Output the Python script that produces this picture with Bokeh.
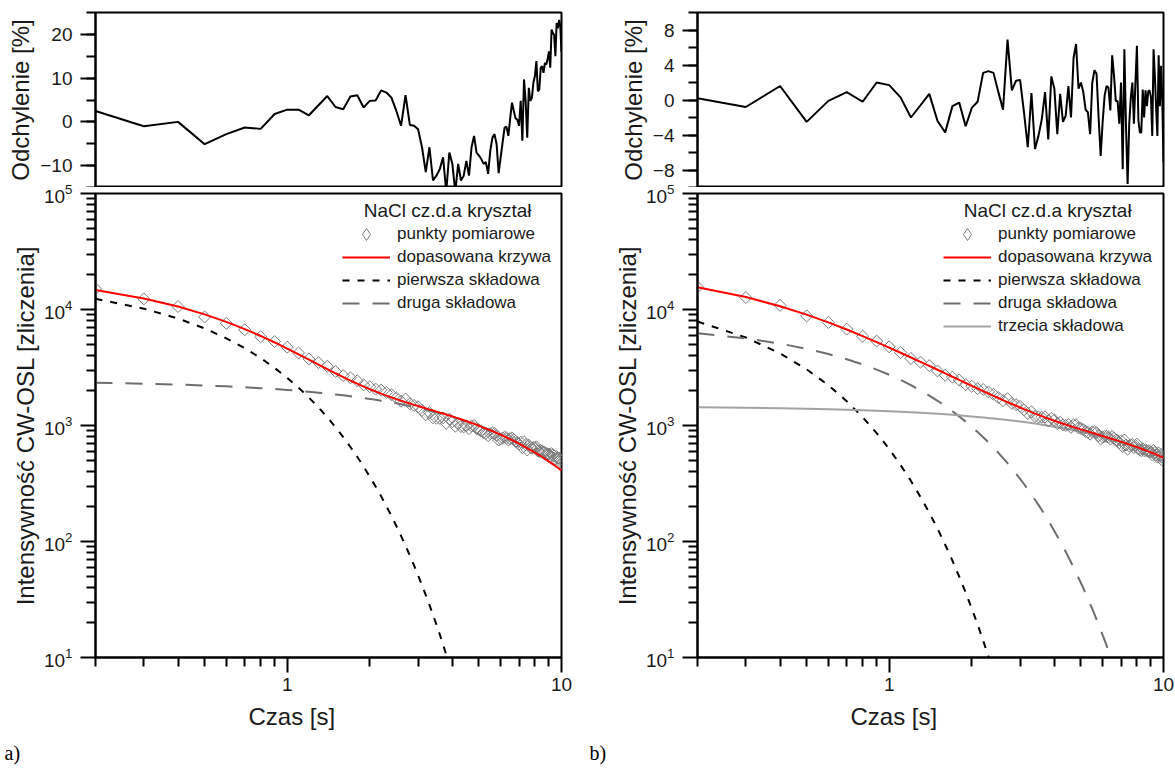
import math
from bokeh.plotting import figure
from bokeh.layouts import row, column
from bokeh.models import (FixedTicker, SingleIntervalTicker, PrintfTickFormatter,
                          Legend, LegendItem, Label, LogAxis, Title)
from bokeh.embed import file_html
from bokeh.resources import INLINE

# ---------------- data ----------------
t = [0.2, 0.3, 0.4, 0.5, 0.6, 0.7, 0.8, 0.9, 1.0,
     1.1, 1.2, 1.3, 1.4, 1.5, 1.6, 1.7, 1.8, 1.9, 2.0,
     2.1, 2.2, 2.3, 2.4, 2.5, 2.6, 2.7, 2.8, 2.9, 3.0,
     3.1, 3.2, 3.3, 3.4, 3.5, 3.6, 3.7, 3.8, 3.9, 4.0,
     4.1, 4.2, 4.3, 4.4, 4.5, 4.6, 4.7, 4.8, 4.9, 5.0,
     5.1, 5.2, 5.3, 5.4, 5.5, 5.6, 5.7, 5.8, 5.9, 6.0,
     6.1, 6.2, 6.3, 6.4, 6.5, 6.6, 6.7, 6.8, 6.9, 7.0,
     7.1, 7.2, 7.3, 7.4, 7.5, 7.6, 7.7, 7.8, 7.9, 8.0,
     8.1, 8.2, 8.3, 8.4, 8.5, 8.6, 8.7, 8.8, 8.9, 9.0,
     9.1, 9.2, 9.3, 9.4, 9.5, 9.6, 9.7, 9.8, 9.9, 10.0]

# panel a)
res_a = [2.5, -1.0, 0.0, -5.1, -2.8, -1.3, -1.6, 1.8, 2.8,
         2.8, 1.5, 3.8, 5.9, 3.4, 2.9, 5.8, 6.1, 3.3, 4.8,
         4.9, 7.2, 6.7, 5.5, 2.5, -0.9, 6.1, -0.7, -0.9, -1.7,
         -5.8, -11.5, -5.8, -13.4, -12.3, -10.8, -8.1, -16.0, -7.0, -9.6,
         -16.0, -9.6, -13.4, -12.3, -8.9, -12.3, -5.8, -3.2, -7.0, -7.7,
         -8.5, -9.6, -9.2, -11.9, -6.6, -3.6, -2.8, -5.1, -11.7, -8.1,
         -4.7, -1.3, -1.1, -3.2, 0.8, 4.4, 2.5, 0.8, 0.5, -0.9,
         4.8, -4.3, 9.7, 4.8, -3.6, 7.8, 4.8, 5.5, 9.0, 10.5,
         13.9, 7.0, 7.4, 12.4, 12.7, 11.2, 13.5, 13.1, 14.3, 16.1,
         12.4, 21.1, 20.3, 19.9, 15.0, 22.6, 21.4, 23.3, 21.8, 16.0]

meas_a = [15070, 12340, 10610, 8620, 7600, 6690, 5820, 5290, 4730,
          4220, 3750, 3480, 3240, 2920, 2690, 2580, 2430, 2240, 2160,
          2060, 2020, 1930, 1840, 1730, 1620, 1690, 1540, 1490, 1450,
          1350, 1240, 1290, 1165, 1156, 1152, 1164, 1044, 1134, 1081,
          986, 1041, 979, 973, 994, 939, 991, 999, 943, 918,
          895, 868, 856, 817, 850, 862, 854, 819, 749, 766,
          780, 794, 781, 751, 768, 782, 754, 729, 714, 692,
          718, 644, 725, 681, 615, 676, 646, 638, 649, 645,
          654, 603, 595, 611, 603, 584, 586, 573, 569, 568,
          541, 572, 558, 547, 515, 539, 524, 524, 508, 476]

fit_a = [14705, 12462, 10610, 9083, 7821, 6777, 5914, 5197, 4603,
         4108, 3696, 3351, 3062, 2820, 2615, 2441, 2294, 2167, 2059,
         1964, 1881, 1808, 1745, 1687, 1636, 1589, 1547, 1507, 1471,
         1437, 1405, 1374, 1345, 1318, 1292, 1267, 1243, 1219, 1196,
         1174, 1152, 1131, 1110, 1091, 1071, 1052, 1032, 1014, 996,
         978, 960, 943, 927, 910, 894, 879, 863, 848, 833,
         818, 804, 790, 776, 762, 749, 736, 723, 710, 698,
         685, 673, 661, 650, 638, 627, 616, 605, 595, 584,
         574, 564, 554, 544, 535, 525, 516, 507, 498, 489,
         481, 472, 464, 456, 448, 440, 432, 425, 417, 410]

comp1_a = [12370, 10168, 8357, 6869, 5646, 4641, 3815, 3135, 2577,
           2118, 1741, 1431, 1176, 967, 795, 653, 537, 441, 363,
           298, 245, 201, 166, 136, 112, 92, 75.6, 62.2, 51.1,
           42.0, 34.5, 28.4, 23.3, 19.2, 15.8, 12.9, 10.6, 8.7, 7.2]

comp2_a = [2335, 2294, 2253, 2214, 2175, 2136, 2099, 2062, 2026,
           1990, 1955, 1920, 1886, 1853, 1820, 1788, 1757, 1726, 1696,
           1666, 1636, 1607, 1579, 1551, 1524, 1497, 1471, 1445, 1420,
           1395, 1370, 1346, 1322, 1299, 1276, 1254, 1232, 1210, 1189,
           1168, 1147, 1127, 1107, 1088, 1069, 1050, 1031, 1013, 995,
           978, 960, 943, 927, 910, 894, 879, 863, 848, 833,
           818, 804, 790, 776, 762, 749, 736, 723, 710, 698,
           685, 673, 661, 650, 638, 627, 616, 605, 595, 584,
           574, 564, 554, 544, 535, 525, 516, 507, 498, 489,
           481, 472, 464, 456, 448, 440, 432, 425, 417, 410]

# panel b)
res_b = [0.2, -0.8, 1.6, -2.5, -0.1, 0.9, -0.2, 2.0, 1.7,
         0.3, -2.0, -0.6, 0.7, -2.4, -3.7, -0.7, -0.3, -3.0, -0.9,
         -0.2, 3.1, 3.3, 3.1, 0.9, -1.1, 6.9, 1.1, 2.2, 2.3,
         -1.4, -5.4, 0.8, -5.6, -4.1, -2.2, 0.9, -4.5, 2.7, 1.3,
         -3.9, 0.7, -2.5, -1.8, 1.6, -2.0, 4.8, 6.4, 1.3, 2.0,
         0.9, -1.1, -1.4, -3.9, 2.0, 3.4, 3.0, -2.0, -6.4, -2.5,
         0.5, 1.6, 1.4, -1.2, 5.1, 2.8, -0.1, -0.1, -2.7, 2.0,
         -7.9, 5.8, -3.1, -9.6, -2.7, 0.3, 2.0, -2.7, 2.0, 6.2,
         -2.3, -3.7, -3.7, 1.2, -2.0, 1.1, -0.7, 1.0, 1.1, 0.3,
         -4.1, 5.8, 2.8, -0.9, -4.1, 5.1, -0.7, 3.9, -0.1, -7.1]

meas_b = [15600, 12700, 10850, 8805, 7731, 6777, 5886, 5340, 4769,
          4250, 3782, 3515, 3284, 2950, 2711, 2613, 2464, 2256, 2178,
          2080, 2042, 1949, 1859, 1741, 1637, 1701, 1550, 1513, 1463,
          1365, 1270, 1313, 1196, 1184, 1178, 1186, 1097, 1154, 1114,
          1036, 1064, 1011, 1002, 1018, 965, 1016, 1015, 952, 945,
          921, 890, 875, 842, 881, 882, 867, 815, 768, 792,
          806, 806, 794, 765, 804, 778, 748, 740, 712, 740,
          659, 750, 679, 627, 667, 681, 685, 646, 671, 691,
          629, 614, 608, 631, 606, 618, 601, 605, 600, 589,
          557, 608, 585, 558, 534, 579, 541, 561, 533, 491]

fit_b = [15570, 12804, 10679, 9031, 7739, 6717, 5898, 5235, 4689,
         4237, 3859, 3536, 3261, 3023, 2815, 2631, 2471, 2326, 2198,
         2084, 1981, 1887, 1803, 1725, 1655, 1591, 1533, 1480, 1430,
         1384, 1342, 1303, 1267, 1235, 1204, 1175, 1149, 1124, 1100,
         1078, 1057, 1037, 1020, 1002, 985, 969, 954, 940, 926,
         913, 900, 887, 876, 864, 853, 842, 832, 821, 812,
         802, 793, 783, 774, 765, 757, 749, 741, 732, 725,
         716, 709, 701, 694, 686, 679, 672, 664, 658, 651,
         644, 638, 631, 624, 618, 611, 605, 599, 593, 587,
         581, 575, 569, 563, 557, 551, 545, 540, 534, 529]

comp1_b = [7880, 5742, 4184, 3049, 2222, 1619, 1180, 860, 626,
           456, 333, 242, 177, 129, 93.8, 68.3, 49.8, 36.3, 26.4,
           19.3, 14.0, 10.2, 7.5]

comp2_b = [6250, 5637, 5084, 4585, 4135, 3730, 3364, 3034, 2736,
           2468, 2226, 2007, 1810, 1633, 1473, 1328, 1198, 1080, 974,
           879, 793, 715, 645, 581, 524, 473, 427, 385, 347,
           313, 282, 254, 229, 207, 187, 168, 152, 137, 123,
           111, 100, 90.4, 81.5, 73.5, 66.3, 59.8, 53.9, 48.6, 43.9,
           39.6, 35.7, 32.2, 29.0, 26.2, 23.6, 21.3, 19.2, 17.3, 15.6,
           14.1, 12.7, 11.5, 10.3, 9.3, 8.4]

comp3_b = [1440, 1425, 1411, 1397, 1382, 1368, 1354, 1341, 1327,
           1313, 1300, 1287, 1274, 1261, 1248, 1235, 1223, 1210, 1198,
           1186, 1174, 1162, 1150, 1138, 1127, 1115, 1104, 1093, 1082,
           1071, 1060, 1049, 1038, 1028, 1017, 1007, 997, 987, 977,
           967, 957, 947, 938, 928, 919, 909, 900, 891, 882,
           873, 864, 855, 847, 838, 829, 821, 813, 804, 796,
           788, 780, 772, 764, 756, 749, 741, 734, 726, 719,
           711, 704, 697, 690, 683, 676, 669, 662, 656, 649,
           642, 636, 629, 623, 617, 610, 604, 598, 592, 586,
           580, 574, 568, 562, 557, 551, 545, 540, 534, 529]

legend_title = "NaCl cz.d.a kryształ"
legend_labels = ["punkty pomiarowe", "dopasowana krzywa", "pierwsza składowa",
                 "druga składowa", "trzecia składowa"]
x_major = [1, 10]
x_minor = [0.2, 0.3, 0.4, 0.5, 0.6, 0.7, 0.8, 0.9, 2, 3, 4, 5, 6, 7, 8, 9]
y_major = [10, 100, 1000, 10000, 100000]
y_minor = [m * d for d in (10, 100, 1000, 10000) for m in range(2, 10)]

# ---------------- styling ----------------
FONT = "Liberation Sans"
TXT = "#1a1a1a"
FW, FH_TOP, FH_BOT = 466, 175, 464


def style_common(p):
    p.grid.visible = False
    p.outline_line_color = "black"
    p.outline_line_width = 2
    p.background_fill_color = "white"


def style_axis(ax, label):
    ax.axis_label = label
    ax.axis_label_text_font = FONT
    ax.axis_label_text_font_size = "24px"
    ax.axis_label_text_font_style = "normal"
    ax.axis_label_text_color = TXT
    ax.major_label_text_font = FONT
    ax.major_label_text_font_size = "19px"
    ax.major_label_text_color = TXT
    ax.axis_line_color = "black"
    ax.axis_line_width = 2
    ax.major_tick_line_color = "black"
    ax.major_tick_line_width = 2
    ax.minor_tick_line_color = "black"
    ax.minor_tick_line_width = 2
    ax.major_tick_in = 0
    ax.major_tick_out = 15
    ax.minor_tick_in = 0
    ax.minor_tick_out = 9
    ax.major_label_standoff = 8


def spacer_axis(p, size):
    """An empty (tick-less) axis below the plot, used only to add vertical space."""
    ax = LogAxis(ticker=FixedTicker(ticks=[]), axis_line_color=None,
                 major_tick_in=0, major_tick_out=size, minor_tick_in=0, minor_tick_out=0,
                 major_label_standoff=0, major_tick_line_color="white")
    p.add_layout(ax, "below")


def make_top(res, yr, interval, ml, mr):
    p = figure(frame_width=FW, frame_height=FH_TOP, x_axis_type="log", x_range=(0.2, 10),
               y_range=yr, x_axis_location=None, output_backend="svg",
               toolbar_location=None, min_border_left=ml, min_border_right=mr,
               min_border_top=12, min_border_bottom=0)
    style_common(p)
    p.line(t, res, line_color="black", line_width=2)
    ax = p.yaxis[0]
    ax.ticker = SingleIntervalTicker(interval=interval, num_minor_ticks=2)
    style_axis(ax, "Odchylenie [%]")
    ax.axis_label_standoff = 3
    return p


def make_bottom(ml, mr, meas, fit, comps, leg1_xy, leg2_xy, title_x, tag, tag_offset):
    p = figure(frame_width=FW, frame_height=FH_BOT, x_axis_type="log", y_axis_type="log",
               x_range=(0.2, 10), y_range=(10, 1e5), output_backend="svg",
               toolbar_location=None, min_border_left=ml, min_border_right=mr,
               min_border_top=30, min_border_bottom=126)
    p.margin = (-24, 0, 0, 0)
    p.border_fill_alpha = 0
    style_common(p)

    comp_styles = [dict(line_color="black", line_dash="7 8"),
                   dict(line_color="#6e6e6e", line_dash="17 13"),
                   dict(line_color="#a3a3a3")]
    comp_r = []
    for vals, st in zip(comps, comp_styles):
        comp_r.append(p.line(t[:len(vals)], vals, line_width=2, **st))
    p.scatter(t, meas, marker="square", angle=math.pi / 4, size=8.5,
              line_color="#7a7a7a", line_width=1, fill_color=None)
    fit_r = p.line(t, fit, line_color="#ff0000", line_width=2)
    # legend key for the measured points: legend markers are never rotated, so use a
    # diamond marker of zero size in the plot (the legend sets its own key size)
    key_pts = p.scatter(t[:1], meas[:1], marker="diamond", size=0, line_color="#7a7a7a",
                        line_width=1, fill_color=None)

    xa = p.xaxis[0]
    xa.ticker = FixedTicker(ticks=x_major, minor_ticks=x_minor)
    xa.formatter = PrintfTickFormatter(format="%d")
    style_axis(xa, "")
    xa.major_label_standoff = 5

    # x axis title, shifted left of the frame centre as in the original
    p.add_layout(Title(text="Czas [s]", align="left", offset=153, vertical_align="middle",
                       standoff=17, text_font=FONT, text_font_size="24px",
                       text_font_style="normal", text_color=TXT), "below")
    spacer_axis(p, 17)
    p.add_layout(Title(text=tag, align="left", offset=tag_offset, vertical_align="bottom",
                       standoff=0, text_font="Liberation Serif", text_font_size="20px",
                       text_font_style="normal", text_color="black"), "below")

    ya = p.yaxis[0]
    ya.ticker = FixedTicker(ticks=y_major, minor_ticks=y_minor)
    style_axis(ya, "Intensywność CW-OSL [zliczenia]")
    ya.axis_label_standoff = 2

    common = dict(padding=0, margin=0, glyph_width=48, label_height=20, label_standoff=7,
                  label_text_font=FONT, label_text_font_size="17px",
                  label_text_color=TXT, border_line_color=None, background_fill_alpha=0)
    leg1 = Legend(items=[LegendItem(label=legend_labels[0], renderers=[key_pts])],
                  location=leg1_xy, glyph_height=30, spacing=0, **common)
    line_r = [fit_r] + comp_r
    leg2 = Legend(items=[LegendItem(label=lab, renderers=[r])
                         for lab, r in zip(legend_labels[1:], line_r)],
                  location=leg2_xy, glyph_height=20, spacing=3, **common)
    p.add_layout(leg1)
    p.add_layout(leg2)

    p.add_layout(Label(x=title_x, y=71000, text=legend_title, text_font=FONT,
                       text_font_size="19px", text_color=TXT, text_baseline="middle"))
    return p


top_a = make_top(res_a, (-15, 25), 10, 95, 24)
top_b = make_top(res_b, (-10, 10), 4, 112, 12)
bot_a = make_bottom(95, 24, meas_a, fit_a, [comp1_a, comp2_a], (247, 408), (247, 344),
                    1.9, "a)", -91)
bot_b = make_bottom(112, 12, meas_b, fit_b, [comp1_b, comp2_b, comp3_b], (246, 408),
                    (246, 321), 1.87, "b)", -108)

layout = row(column(top_a, bot_a), column(top_b, bot_b))

with open("out.html", "w") as f:
    f.write(file_html(layout, INLINE))
